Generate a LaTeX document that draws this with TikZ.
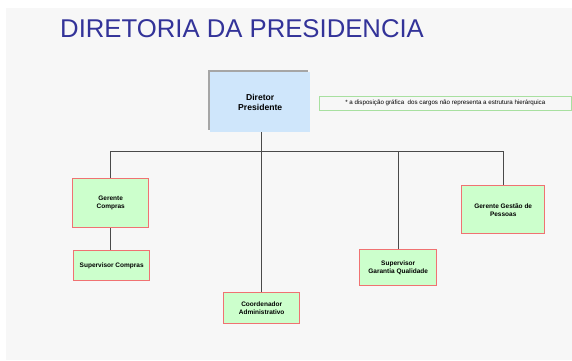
\documentclass[tikz,border=0pt]{standalone}
\usepackage{fontspec}
\setmainfont{Liberation Sans}
\definecolor{bg}{HTML}{F7F7F7}
\definecolor{titleblue}{HTML}{333399}
\definecolor{dirfill}{HTML}{CFE6FB}
\definecolor{boxfill}{HTML}{CCFFCC}
\definecolor{boxline}{HTML}{F07272}
\definecolor{conn}{HTML}{4A4A4A}
\definecolor{notegreen}{HTML}{A8E0A0}
\begin{document}
\begin{tikzpicture}[x=1pt,y=-1pt,
  posbox/.style={draw=boxline,line width=1.4pt,fill=boxfill,inner sep=0pt,align=center,font=\fontsize{6.5}{8}\selectfont\bfseries},
  conline/.style={draw=conn,line width=0.9pt}]
\useasboundingbox (0,0) rectangle (572,360);
\fill[white] (0,0) rectangle (572,360);
\fill[bg] (6,8) rectangle (572,360);
\node[anchor=base west,text=titleblue,font=\fontsize{25.7}{28}\selectfont,inner sep=0pt] (title) at (60,37) {DIRETORIA DA PRESIDENCIA};
% director shadow
\fill[gray!70] (208,70) rectangle (308,130);
\node[fill=dirfill,minimum width=100pt,minimum height=60pt,inner sep=0pt,align=center,font=\fontsize{8.6}{10}\selectfont\bfseries,anchor=north west] (dir) at (210,72) {Diretor\\Presidente};
\node[draw=notegreen,line width=0.6pt,fill=bg,minimum width=252pt,minimum height=14pt,inner sep=0pt,font=\fontsize{6.2}{7}\selectfont,anchor=north west] (note) at (319,96) {* a disposição gráfica \ dos cargos não representa a estrutura hierárquica};
\node[posbox,minimum width=76pt,minimum height=49pt,anchor=north west] (gc) at (72,178) {Gerente\\Compras};
\node[posbox,minimum width=76pt,minimum height=30pt,anchor=north west] (sc) at (73,250) {Supervisor Compras};
\node[posbox,minimum width=76pt,minimum height=31pt,anchor=north west] (ca) at (223,292) {Coordenador\\Administrativo};
\node[posbox,minimum width=77pt,minimum height=36pt,anchor=north west] (sg) at (359,249) {Supervisor\\Garantia Qualidade};
\node[posbox,minimum width=83pt,minimum height=48pt,anchor=north west] (gp) at (461,185) {Gerente Gestão de\\Pessoas};
\coordinate (bus) at (261,151);
\draw[conline] (dir.south -| bus) -- (bus);
\draw[conline] (gc.north) -- (gc.north |- bus);
\draw[conline] (gp.north) -- (gp.north |- bus);
\draw[conline] (gc.north |- bus) -- (gp.north |- bus);
\draw[conline] (ca.north) -- (ca.north |- bus);
\draw[conline] (sg.north) -- (sg.north |- bus);
\draw[conline] (gc.south) -- (gc.south |- sc.north);
\end{tikzpicture}
\end{document}
